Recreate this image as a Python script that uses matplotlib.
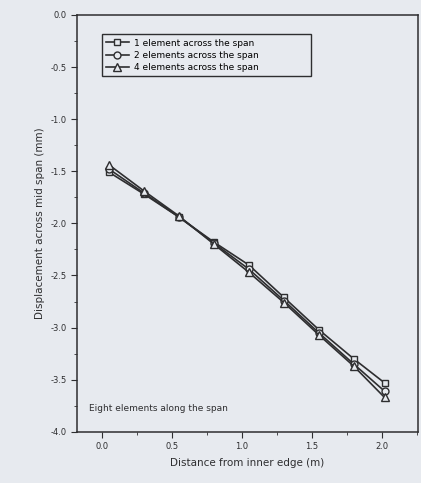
import matplotlib
matplotlib.use("Agg")
import matplotlib.pyplot as plt
from matplotlib.ticker import MultipleLocator

# distance from inner edge (m)
dist = [0.05, 0.30, 0.55, 0.80, 1.05, 1.30, 1.55, 1.80, 2.02]

# displacement across mid span (mm)
one_elem = [-1.51, -1.72, -1.94, -2.18, -2.40, -2.71, -3.02, -3.30, -3.53]
two_elem = [-1.48, -1.71, -1.94, -2.19, -2.44, -2.74, -3.05, -3.35, -3.61]
four_elem = [-1.44, -1.69, -1.93, -2.20, -2.47, -2.76, -3.07, -3.37, -3.67]

labels = ["1 element across the span",
          "2 elements across the span",
          "4 elements across the span"]

bg = "#e7eaef"
ink = "#2e2e30"

fig = plt.figure(figsize=(4.21, 4.83), dpi=100, facecolor=bg)
ax = fig.add_axes([0.183, 0.106, 0.81, 0.863], facecolor=bg)

ax.plot(dist, one_elem, marker="s", color=ink, mfc=bg, mec=ink, ms=5, lw=1.2, label=labels[0])
ax.plot(dist, two_elem, marker="o", color=ink, mfc=bg, mec=ink, ms=5, lw=1.2, label=labels[1])
ax.plot(dist, four_elem, marker="^", color=ink, mfc=bg, mec=ink, ms=6, lw=1.2, label=labels[2])

ax.set_xlim(-0.18, 2.26)
ax.set_ylim(-4.0, 0.0)
ax.xaxis.set_major_locator(MultipleLocator(0.5))
ax.xaxis.set_minor_locator(MultipleLocator(0.25))
ax.yaxis.set_major_locator(MultipleLocator(0.5))
ax.yaxis.set_minor_locator(MultipleLocator(0.25))
ax.xaxis.set_major_formatter(lambda v, p: f"{v:.1f}")
ax.yaxis.set_major_formatter(lambda v, p: f"{v:.1f}")

for s in ax.spines.values():
    s.set_color(ink)
    s.set_linewidth(1.1)
ax.tick_params(which="both", direction="out", colors=ink, labelsize=6)
ax.tick_params(which="major", length=4)
ax.tick_params(which="minor", length=2.5)

ax.set_xlabel("Distance from inner edge (m)", fontsize=7.5, color=ink, labelpad=5)
ax.set_ylabel("Displacement across mid span (mm)", fontsize=7.5, color=ink, labelpad=4)

ax.text(0.035, 0.05, "Eight elements along the span", transform=ax.transAxes,
        fontsize=6.5, color=ink)

leg = ax.legend(loc="upper left", bbox_to_anchor=(0.059, 0.839, 0.641, 0.125),
                mode="expand", fontsize=6.5, frameon=True, fancybox=False,
                edgecolor=ink, facecolor=bg, framealpha=1, handlelength=2.6,
                borderpad=0.45, labelspacing=0.35, handletextpad=0.5)
leg.get_frame().set_linewidth(1.0)

fig.savefig("out.png", dpi=100, facecolor=bg)
